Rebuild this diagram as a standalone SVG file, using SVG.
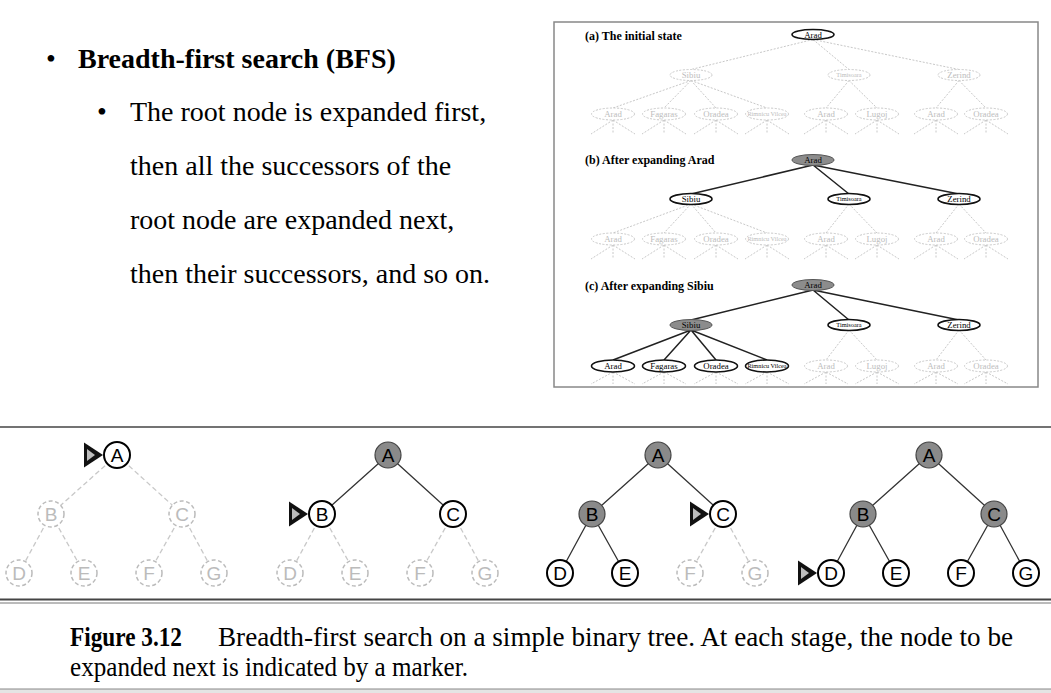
<svg xmlns="http://www.w3.org/2000/svg" width="1051" height="693" viewBox="0 0 1051 693">
<style>
.t28{font-family:"Liberation Serif",serif;font-size:28px;fill:#000}
.lbl{font-family:"Liberation Serif",serif;font-weight:bold;font-size:12px;fill:#000}
.rn{font-family:"Liberation Serif",serif;font-size:8.8px;text-anchor:middle;fill:#000}
.sm{font-size:6.3px}
.tg{fill:#bdbdbd}
.eg{fill:#fff;stroke:#c8c8c8;stroke-width:1;stroke-dasharray:2 1.5}
.ef{fill:#fff;stroke:#111;stroke-width:1.6}
.ex{fill:#8c8c8c;stroke:#555;stroke-width:1}
.lg{stroke:#c8c8c8;stroke-width:1;stroke-dasharray:2 1.5;fill:none}
.ls{stroke:#222;stroke-width:1.5;fill:none}
.bl{font-family:"Liberation Sans",Arial,sans-serif;font-size:19px;text-anchor:middle;fill:#000}
.blg{fill:#bbb}
.cu{fill:#fff;stroke:#bbb;stroke-width:1.5;stroke-dasharray:4 2.5}
.cf{fill:#fff;stroke:#000;stroke-width:2}
.cx{fill:#8a8a8a;stroke:#444;stroke-width:1.2}
.es{stroke:#333;stroke-width:1.3;fill:none}
.ed{stroke:#c8c8c8;stroke-width:1.3;stroke-dasharray:5 3;fill:none}
.cap{font-family:"Liberation Serif",serif;font-size:27px;fill:#000}
</style>
<defs>
<g id="mk"><polygon points="-33,-12.5 -14,0 -33,12.5" fill="#111"/><polygon points="-30,-6 -22,0 -30,6" fill="#bdbdbd"/></g>
</defs>
<rect width="1051" height="693" fill="#fff"/>

<g id="bullets">
<text class="t28" x="46" y="68">•</text>
<text class="t28" x="78" y="68" font-weight="bold">Breadth-first search (BFS)</text>
<text class="t28" x="97" y="121">•</text>
<text class="t28" x="130" y="121">The root node is expanded first,</text>
<text class="t28" x="130" y="175">then all the successors of the</text>
<text class="t28" x="130" y="229">root node are expanded next,</text>
<text class="t28" x="130" y="283">then their successors, and so on.</text>
</g>

<g id="romania-panel">
<rect x="554" y="22" width="484" height="365" fill="#fff" stroke="#888" stroke-width="1.5"/>
<text class="lbl" x="585" y="40">(a) The initial state</text>
<text class="lbl" x="585" y="164">(b) After expanding Arad</text>
<text class="lbl" x="585" y="290">(c) After expanding Sibiu</text>

<g id="romania-connectors">
<path class="lg" d="M813,39.5L691,69.5M813,39.5L849,69.5M813,39.5L959,69.5M691,80.5L613,108M691,80.5L664,108M691,80.5L716,108M691,80.5L767,108M849,80.5L826,108M849,80.5L877,108M959,80.5L936,108M959,80.5L986,108"/>
<path class="lg" d="M613,120L591,134M613,120L613,134M613,120L635,134M664,120L642,134M664,120L664,134M664,120L686,134M716,120L694,134M716,120L716,134M716,120L738,134M767,120L745,134M767,120L767,134M767,120L789,134M826,120L804,134M826,120L826,134M826,120L848,134M877,120L855,134M877,120L877,134M877,120L899,134M936,120L914,134M936,120L936,134M936,120L958,134M986,120L964,134M986,120L986,134M986,120L1008,134"/>
<path class="ls" d="M813,165L691,194M813,165L849,194M813,165L959,194"/>
<path class="lg" d="M691,204L613,233M691,204L664,233M691,204L716,233M691,204L767,233M849,204L826,233M849,204L877,233M959,204L936,233M959,204L986,233"/>
<path class="lg" d="M613,245L591,259M613,245L613,259M613,245L635,259M664,245L642,259M664,245L664,259M664,245L686,259M716,245L694,259M716,245L716,259M716,245L738,259M767,245L745,259M767,245L767,259M767,245L789,259M826,245L804,259M826,245L826,259M826,245L848,259M877,245L855,259M877,245L877,259M877,245L899,259M936,245L914,259M936,245L936,259M936,245L958,259M986,245L964,259M986,245L986,259M986,245L1008,259"/>
<path class="ls" d="M813,290L691,320M813,290L849,320M813,290L959,320M691,330L613,360M691,330L664,360M691,330L716,360M691,330L767,360"/>
<path class="lg" d="M849,330L826,360M849,330L877,360M959,330L936,360M959,330L986,360"/>
<path class="lg" d="M613,372L591,384M613,372L613,384M613,372L635,384M664,372L642,384M664,372L664,384M664,372L686,384M716,372L694,384M716,372L716,384M716,372L738,384M767,372L745,384M767,372L767,384M767,372L789,384M826,372L804,384M826,372L826,384M826,372L848,384M877,372L855,384M877,372L877,384M877,372L899,384M936,372L914,384M936,372L936,384M936,372L958,384M986,372L964,384M986,372L986,384M986,372L1008,384"/>
</g>

<g id="a-arad"><ellipse class="ef" cx="813" cy="34.5" rx="21" ry="5"/><text class="rn" x="813" y="37.6">Arad</text></g>
<g id="a-sibiu"><ellipse class="eg" cx="691" cy="75" rx="21" ry="5.5"/><text class="rn tg" x="691" y="78.1">Sibiu</text></g>
<g id="a-timisoara"><ellipse class="eg" cx="849" cy="75" rx="21" ry="5.5"/><text class="rn tg sm" x="849" y="77.3">Timisoara</text></g>
<g id="a-zerind"><ellipse class="eg" cx="959" cy="75" rx="21" ry="5.5"/><text class="rn tg" x="959" y="78.1">Zerind</text></g>
<g id="a-l2">
<ellipse class="eg" cx="613" cy="114" rx="21.5" ry="6"/><text class="rn tg" x="613" y="117.1">Arad</text>
<ellipse class="eg" cx="664" cy="114" rx="21.5" ry="6"/><text class="rn tg" x="664" y="117.1">Fagaras</text>
<ellipse class="eg" cx="716" cy="114" rx="21.5" ry="6"/><text class="rn tg" x="716" y="117.1">Oradea</text>
<ellipse class="eg" cx="767" cy="114" rx="21.5" ry="6"/><text class="rn tg sm" x="767" y="116.3">Rimnicu Vilcea</text>
<ellipse class="eg" cx="826" cy="114" rx="21.5" ry="6"/><text class="rn tg" x="826" y="117.1">Arad</text>
<ellipse class="eg" cx="877" cy="114" rx="21.5" ry="6"/><text class="rn tg" x="877" y="117.1">Lugoj</text>
<ellipse class="eg" cx="936" cy="114" rx="21.5" ry="6"/><text class="rn tg" x="936" y="117.1">Arad</text>
<ellipse class="eg" cx="986" cy="114" rx="21.5" ry="6"/><text class="rn tg" x="986" y="117.1">Oradea</text>
</g>

<g id="b-arad"><ellipse class="ex" cx="813" cy="160" rx="21" ry="5.5"/><text class="rn" x="813" y="163.1">Arad</text></g>
<g id="b-sibiu"><ellipse class="ef" cx="691" cy="199" rx="21" ry="5.5"/><text class="rn" x="691" y="202.1">Sibiu</text></g>
<g id="b-timisoara"><ellipse class="ef" cx="849" cy="199" rx="21" ry="5.5"/><text class="rn sm" x="849" y="201.3">Timisoara</text></g>
<g id="b-zerind"><ellipse class="ef" cx="959" cy="199" rx="21" ry="5.5"/><text class="rn" x="959" y="202.1">Zerind</text></g>
<g id="b-l2">
<ellipse class="eg" cx="613" cy="239" rx="21.5" ry="6"/><text class="rn tg" x="613" y="242.1">Arad</text>
<ellipse class="eg" cx="664" cy="239" rx="21.5" ry="6"/><text class="rn tg" x="664" y="242.1">Fagaras</text>
<ellipse class="eg" cx="716" cy="239" rx="21.5" ry="6"/><text class="rn tg" x="716" y="242.1">Oradea</text>
<ellipse class="eg" cx="767" cy="239" rx="21.5" ry="6"/><text class="rn tg sm" x="767" y="241.3">Rimnicu Vilcea</text>
<ellipse class="eg" cx="826" cy="239" rx="21.5" ry="6"/><text class="rn tg" x="826" y="242.1">Arad</text>
<ellipse class="eg" cx="877" cy="239" rx="21.5" ry="6"/><text class="rn tg" x="877" y="242.1">Lugoj</text>
<ellipse class="eg" cx="936" cy="239" rx="21.5" ry="6"/><text class="rn tg" x="936" y="242.1">Arad</text>
<ellipse class="eg" cx="986" cy="239" rx="21.5" ry="6"/><text class="rn tg" x="986" y="242.1">Oradea</text>
</g>

<g id="c-arad"><ellipse class="ex" cx="813" cy="285" rx="21" ry="5.5"/><text class="rn" x="813" y="288.1">Arad</text></g>
<g id="c-sibiu"><ellipse class="ex" cx="691" cy="325" rx="21" ry="5.5"/><text class="rn" x="691" y="328.1">Sibiu</text></g>
<g id="c-timisoara"><ellipse class="ef" cx="849" cy="325" rx="21" ry="5.5"/><text class="rn sm" x="849" y="327.3">Timisoara</text></g>
<g id="c-zerind"><ellipse class="ef" cx="959" cy="325" rx="21" ry="5.5"/><text class="rn" x="959" y="328.1">Zerind</text></g>
<g id="c-l2">
<ellipse class="ef" cx="613" cy="366" rx="21.5" ry="6"/><text class="rn" x="613" y="369.1">Arad</text>
<ellipse class="ef" cx="664" cy="366" rx="21.5" ry="6"/><text class="rn" x="664" y="369.1">Fagaras</text>
<ellipse class="ef" cx="716" cy="366" rx="21.5" ry="6"/><text class="rn" x="716" y="369.1">Oradea</text>
<ellipse class="ef" cx="767" cy="366" rx="21.5" ry="6"/><text class="rn sm" x="767" y="368.3">Rimnicu Vilcea</text>
<ellipse class="eg" cx="826" cy="366" rx="21.5" ry="6"/><text class="rn tg" x="826" y="369.1">Arad</text>
<ellipse class="eg" cx="877" cy="366" rx="21.5" ry="6"/><text class="rn tg" x="877" y="369.1">Lugoj</text>
<ellipse class="eg" cx="936" cy="366" rx="21.5" ry="6"/><text class="rn tg" x="936" y="369.1">Arad</text>
<ellipse class="eg" cx="986" cy="366" rx="21.5" ry="6"/><text class="rn tg" x="986" y="369.1">Oradea</text>
</g>
</g>

<g id="rules">
<line x1="0" y1="427" x2="1051" y2="427" stroke="#444" stroke-width="1.5"/>
<line x1="0" y1="599.5" x2="1051" y2="599.5" stroke="#444" stroke-width="1.8"/>
<line x1="0" y1="603" x2="1051" y2="603" stroke="#777" stroke-width="1"/>
<rect x="0" y="689" width="1051" height="4" fill="#e4e4e4"/>
<line x1="0" y1="689" x2="1051" y2="689" stroke="#888" stroke-width="1"/>
</g>

<g id="stage1">
<g id="s1-connectors"><path class="ed" d="M117,455L51,514M117,455L182,514M51,514L19,573M51,514L84,573M182,514L149,573M182,514L214,573"/></g>
<g id="s1-A"><circle class="cf" cx="117" cy="455" r="13"/><text class="bl" x="117" y="462">A</text></g>
<g id="s1-B"><circle class="cu" cx="51" cy="514" r="13"/><text class="bl blg" x="51" y="521">B</text></g>
<g id="s1-C"><circle class="cu" cx="182" cy="514" r="13"/><text class="bl blg" x="182" y="521">C</text></g>
<g id="s1-D"><circle class="cu" cx="19" cy="573" r="13"/><text class="bl blg" x="19" y="580">D</text></g>
<g id="s1-E"><circle class="cu" cx="84" cy="573" r="13"/><text class="bl blg" x="84" y="580">E</text></g>
<g id="s1-F"><circle class="cu" cx="149" cy="573" r="13"/><text class="bl blg" x="149" y="580">F</text></g>
<g id="s1-G"><circle class="cu" cx="214" cy="573" r="13"/><text class="bl blg" x="214" y="580">G</text></g>
<g id="s1-marker"><use href="#mk" x="117" y="455"/></g>
</g>

<g id="stage2">
<g id="s2-connectors"><path class="es" d="M388,455L322,514M388,455L453,514"/><path class="ed" d="M322,514L290,573M322,514L355,573M453,514L420,573M453,514L485,573"/></g>
<g id="s2-A"><circle class="cx" cx="388" cy="455" r="13"/><text class="bl" x="388" y="462">A</text></g>
<g id="s2-B"><circle class="cf" cx="322" cy="514" r="13"/><text class="bl" x="322" y="521">B</text></g>
<g id="s2-C"><circle class="cf" cx="453" cy="514" r="13"/><text class="bl" x="453" y="521">C</text></g>
<g id="s2-D"><circle class="cu" cx="290" cy="573" r="13"/><text class="bl blg" x="290" y="580">D</text></g>
<g id="s2-E"><circle class="cu" cx="355" cy="573" r="13"/><text class="bl blg" x="355" y="580">E</text></g>
<g id="s2-F"><circle class="cu" cx="420" cy="573" r="13"/><text class="bl blg" x="420" y="580">F</text></g>
<g id="s2-G"><circle class="cu" cx="485" cy="573" r="13"/><text class="bl blg" x="485" y="580">G</text></g>
<g id="s2-marker"><use href="#mk" x="322" y="514"/></g>
</g>

<g id="stage3">
<g id="s3-connectors"><path class="es" d="M658,455L592,514M658,455L723,514M592,514L560,573M592,514L625,573"/><path class="ed" d="M723,514L690,573M723,514L755,573"/></g>
<g id="s3-A"><circle class="cx" cx="658" cy="455" r="13"/><text class="bl" x="658" y="462">A</text></g>
<g id="s3-B"><circle class="cx" cx="592" cy="514" r="13"/><text class="bl" x="592" y="521">B</text></g>
<g id="s3-C"><circle class="cf" cx="723" cy="514" r="13"/><text class="bl" x="723" y="521">C</text></g>
<g id="s3-D"><circle class="cf" cx="560" cy="573" r="13"/><text class="bl" x="560" y="580">D</text></g>
<g id="s3-E"><circle class="cf" cx="625" cy="573" r="13"/><text class="bl" x="625" y="580">E</text></g>
<g id="s3-F"><circle class="cu" cx="690" cy="573" r="13"/><text class="bl blg" x="690" y="580">F</text></g>
<g id="s3-G"><circle class="cu" cx="755" cy="573" r="13"/><text class="bl blg" x="755" y="580">G</text></g>
<g id="s3-marker"><use href="#mk" x="723" y="514"/></g>
</g>

<g id="stage4">
<g id="s4-connectors"><path class="es" d="M929,455L863,514M929,455L994,514M863,514L831,573M863,514L896,573M994,514L961,573M994,514L1026,573"/></g>
<g id="s4-A"><circle class="cx" cx="929" cy="455" r="13"/><text class="bl" x="929" y="462">A</text></g>
<g id="s4-B"><circle class="cx" cx="863" cy="514" r="13"/><text class="bl" x="863" y="521">B</text></g>
<g id="s4-C"><circle class="cx" cx="994" cy="514" r="13"/><text class="bl" x="994" y="521">C</text></g>
<g id="s4-D"><circle class="cf" cx="831" cy="573" r="13"/><text class="bl" x="831" y="580">D</text></g>
<g id="s4-E"><circle class="cf" cx="896" cy="573" r="13"/><text class="bl" x="896" y="580">E</text></g>
<g id="s4-F"><circle class="cf" cx="961" cy="573" r="13"/><text class="bl" x="961" y="580">F</text></g>
<g id="s4-G"><circle class="cf" cx="1026" cy="573" r="13"/><text class="bl" x="1026" y="580">G</text></g>
<g id="s4-marker"><use href="#mk" x="831" y="573"/></g>
</g>

<g id="caption">
<text class="cap" x="70" y="646" font-weight="bold" textLength="112" lengthAdjust="spacingAndGlyphs">Figure 3.12</text>
<text class="cap" x="218" y="646" textLength="795" lengthAdjust="spacingAndGlyphs">Breadth-first search on a simple binary tree.  At each stage, the node to be</text>
<text class="cap" x="70" y="676" textLength="398" lengthAdjust="spacingAndGlyphs">expanded next is indicated by a marker.</text>
</g>
</svg>
